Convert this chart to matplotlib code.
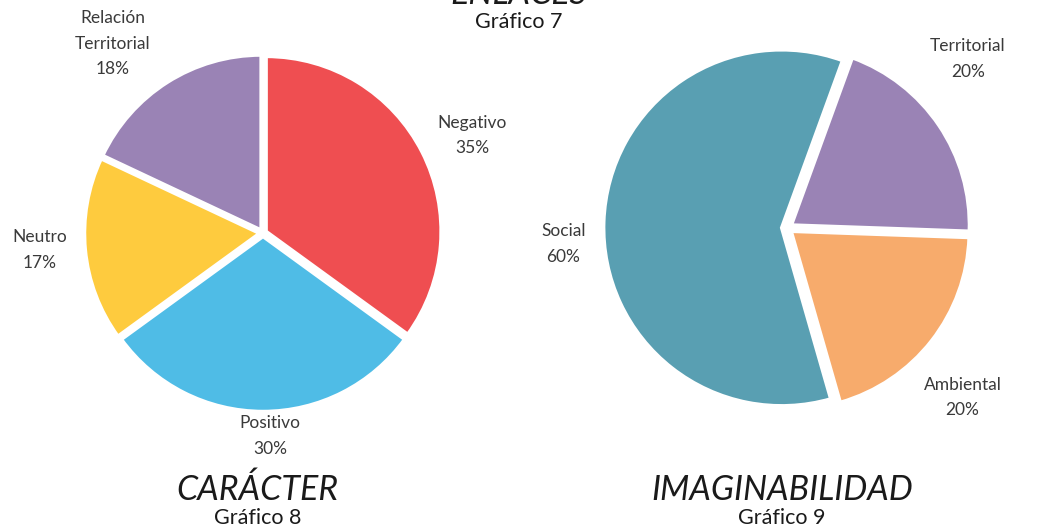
import numpy as np
import matplotlib.pyplot as plt

# Gráfico 8 - carácter
caracter_labels = ["Negativo", "Positivo", "Neutro", "Relación\nTerritorial"]
caracter_values = [35, 30, 17, 18]
caracter_colors = ["#EF4E51", "#4FBCE6", "#FECB3E", "#9A83B5"]

# Gráfico 9 - imaginabilidad
imagin_labels = ["Territorial", "Ambiental", "Social"]
imagin_values = [20, 20, 60]
imagin_colors = ["#9A83B5", "#F7AB6C", "#599FB2"]

W, H = 1038, 529
LIM = 1.45
LABEL_FONT = "Lato"
TITLE_FONT = "Lato"


def pie_axes(fig, cx, cy, r):
    """Square axes whose unit radius spans r pixels, centred at (cx, cy) from top-left."""
    side = 2 * LIM * r
    ax = fig.add_axes([(cx - side / 2) / W, (H - cy - side / 2) / H, side / W, side / H])
    return ax


def draw_pie(ax, values, labels, colors, startangle, explode, label_dist, label_turn):
    wedges, _ = ax.pie(values, colors=colors, startangle=startangle, counterclock=False,
                       explode=explode, radius=1.0,
                       wedgeprops=dict(edgecolor="white", linewidth=2.5))
    # labels sit outside each wedge, nudged round by a few degrees where needed
    for w, lab, val, d, turn in zip(wedges, labels, values, label_dist, label_turn):
        mid = np.deg2rad((w.theta1 + w.theta2) / 2 + turn)
        ax.text(d * np.cos(mid), d * np.sin(mid), f"{lab}\n{val}%",
                ha="center", va="center", fontsize=12.5, color="#3a3a3a",
                family=LABEL_FONT, linespacing=1.75, clip_on=False)
    # pie() autoscales, so pin the limits afterwards
    ax.set_xlim(-LIM, LIM)
    ax.set_ylim(-LIM, LIM)
    ax.set_aspect("equal")
    ax.axis("off")


fig = plt.figure(figsize=(W / 100, H / 100), dpi=100)
fig.patch.set_facecolor("white")

ax1 = pie_axes(fig, 263, 233, 175)
draw_pie(ax1, caracter_values, caracter_labels, caracter_colors, 90,
         [0.02, 0.02, 0.02, 0.02], [1.32, 1.16, 1.28, 1.38], [-2, 2, -1, 6])

ax2 = pie_axes(fig, 787, 228, 178)
draw_pie(ax2, imagin_values, imagin_labels, imagin_colors, 70,
         [0.03, 0.03, 0.03], [1.39, 1.37, 1.26], [9, -6, 6])

# titles
title_kw = dict(ha="center", family=TITLE_FONT, color="#1a1a1a")
fig.text(519 / W, 1 - 4 / H, "ENLACES", va="baseline", fontsize=24.5, style="italic",
         **title_kw)
fig.text(519 / W, 1 - 22 / H, "Gráfico 7", va="center", fontsize=15.5, **title_kw)

fig.text(257 / W, 1 - 490 / H, "CARÁCTER", va="center", fontsize=24.5, style="italic",
         **title_kw)
fig.text(258 / W, 1 - 518 / H, "Gráfico 8", va="center", fontsize=15.5, **title_kw)

fig.text(782 / W, 1 - 490 / H, "IMAGINABILIDAD", va="center", fontsize=24.5, style="italic",
         **title_kw)
fig.text(782 / W, 1 - 518 / H, "Gráfico 9", va="center", fontsize=15.5, **title_kw)

fig.savefig("out.png", dpi=100, facecolor="white")
